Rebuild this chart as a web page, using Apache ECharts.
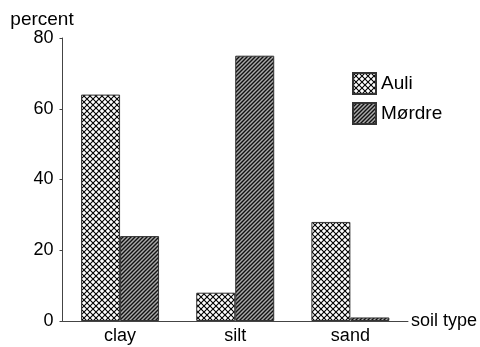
<!DOCTYPE html>
<html><head><meta charset="utf-8">
<script src="https://cdn.jsdelivr.net/npm/echarts@6/dist/echarts.min.js"></script>
<style>html,body{margin:0;padding:0;background:#fff}#c{width:480px;height:347px}</style>
</head><body><div id="c"></div>
<script>
const categories = ['clay', 'silt', 'sand'];
const auli = [64, 8, 28];
const mordre = [24, 75, 1];
const yTicks = [0, 20, 40, 60, 80];

function crossPattern() {
  const c = document.createElement('canvas'); c.width = 6; c.height = 6;
  const g = c.getContext('2d');
  g.fillStyle = '#fff'; g.fillRect(0, 0, 6, 6);
  g.strokeStyle = '#000'; g.lineWidth = 1.1;
  g.beginPath();
  g.moveTo(0, 0); g.lineTo(6, 6);
  g.moveTo(6, 0); g.lineTo(0, 6);
  g.stroke();
  return c;
}
function hatchPattern() {
  const c = document.createElement('canvas'); c.width = 4; c.height = 4;
  const g = c.getContext('2d');
  g.fillStyle = '#aaa'; g.fillRect(0, 0, 4, 4);
  g.strokeStyle = '#111'; g.lineWidth = 1.4;
  g.beginPath();
  g.moveTo(-1, 5); g.lineTo(5, -1);
  g.moveTo(-1, 1); g.lineTo(1, -1);
  g.moveTo(3, 5); g.lineTo(5, 3);
  g.stroke();
  return c;
}
const font = 'Liberation Sans, Arial, Helvetica, sans-serif';
const chart = echarts.init(document.getElementById('c'));
chart.setOption({
  animation: false,
  textStyle: { fontFamily: font, color: '#000' },
  grid: { left: 62.5, right: 69, top: 38, bottom: 26 },
  legend: {
    orient: 'vertical', left: 352, top: 72, padding: 0,
    itemWidth: 23, itemHeight: 21, itemGap: 7,
    icon: 'rect',
    textStyle: { fontSize: 19, color: '#000', fontFamily: font },
    data: ['Auli', 'Mørdre']
  },
  xAxis: {
    type: 'category', data: categories,
    name: 'soil type', nameLocation: 'end', nameGap: 3,
    nameTextStyle: { fontSize: 18, color: '#000', fontFamily: font },
    axisLine: { lineStyle: { color: '#444', width: 1 } },
    axisTick: { alignWithLabel: true, length: 4, lineStyle: { color: '#444' } },
    axisLabel: { fontSize: 18, color: '#000', margin: 6, fontFamily: font }
  },
  yAxis: {
    type: 'value', min: 0, max: 80, interval: 20,
    name: 'percent', nameLocation: 'end', nameGap: 9,
    nameTextStyle: { fontSize: 19, color: '#000', fontFamily: font, align: 'center', padding: [0, 41, 0, 0] },
    axisLine: { show: true, lineStyle: { color: '#444', width: 1 } },
    axisTick: { show: true, length: 3, lineStyle: { color: '#444' } },
    splitLine: { show: false },
    axisLabel: { fontSize: 18, color: '#000', margin: 9, fontFamily: font,
      formatter: v => yTicks.includes(v) ? String(v) : '' }
  },
  series: [
    { name: 'Auli', type: 'bar', data: auli, barWidth: 39, barGap: '0%',
      itemStyle: { color: { image: crossPattern(), repeat: 'repeat' }, borderColor: '#333', borderWidth: 1 } },
    { name: 'Mørdre', type: 'bar', data: mordre, barWidth: 39,
      itemStyle: { color: { image: hatchPattern(), repeat: 'repeat' }, borderColor: '#333', borderWidth: 1 } }
  ]
});
</script></body></html>
